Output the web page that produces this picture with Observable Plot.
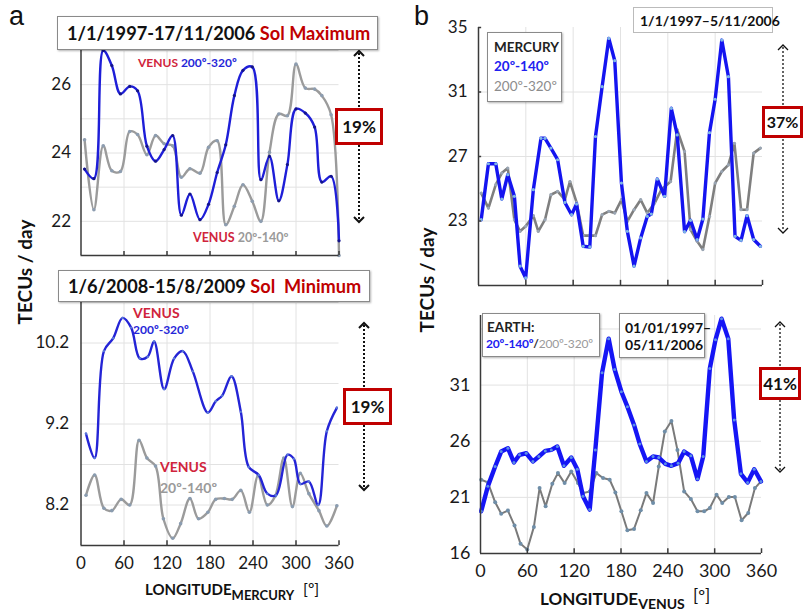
<!DOCTYPE html>
<html><head><meta charset="utf-8">
<script src="https://cdn.jsdelivr.net/npm/d3@7"></script>
<script src="https://cdn.jsdelivr.net/npm/@observablehq/plot@0.6"></script>
<style>
html,body{margin:0;padding:0;background:#fff;}
#fig{position:relative;width:803px;height:611px;overflow:hidden;font-family:Lato,"Open Sans",sans-serif;color:#111;}
#fig svg{position:absolute;}
.t{position:absolute;white-space:nowrap;font-weight:700;line-height:1;}
.box{position:absolute;box-sizing:border-box;background:#fff;border:1px solid #8a8a8a;box-shadow:1px 1px 2px rgba(0,0,0,0.3);}
.pct{position:absolute;box-sizing:border-box;background:#fff;border:3px solid #c00000;display:flex;align-items:center;justify-content:center;font-weight:700;font-size:17px;line-height:1;}
</style></head>
<body><div id="fig"></div>
<script>
// ---------- DATA ----------
const xTickLabels = [0, 60, 120, 180, 240, 300, 360];

// Panel a (top): Sol Maximum, Mercury longitude
const aMaxX = [5, 18, 31, 43, 55, 68, 79, 92, 104, 116, 128, 140, 152, 166, 178, 190, 202, 214, 226, 239, 251, 263, 276, 288, 300, 313, 326, 336, 349, 360];
const aMaxBlue = [23.53, 23.25, 27.0, 26.56, 25.73, 25.95, 25.82, 24.2, 23.76, 24.1, 24.51, 22.18, 22.8, 22.05, 22.5, 23.43, 24.24, 25.68, 26.42, 26.52, 23.22, 23.9, 22.6, 23.66, 25.29, 25.17, 24.76, 23.15, 23.32, 21.43];
const aMaxGray = [24.39, 22.34, 24.21, 23.48, 23.46, 24.63, 24.54, 23.95, 24.51, 24.27, 24.21, 23.29, 23.54, 23.41, 24.17, 24.36, 21.9, 22.44, 23.07, 22.59, 22.0, 24.02, 25.14, 25.09, 26.6, 25.9, 25.87, 25.68, 25.12, 21.0];
const aMaxYTicks = [22, 24, 26];
const aMaxYGrid = [21, 22, 23, 24, 25, 26, 27];

// Panel a (bottom): Sol Minimum
const aMinBlueX = [7, 19, 32, 45, 58, 70, 82, 93, 102, 116, 130, 142, 156, 177, 188, 197, 210, 223, 234, 248, 260, 272, 288, 297, 306, 318, 331, 343, 357];
const aMinBlue = [9.08, 8.78, 10.1, 10.26, 10.51, 10.39, 10.01, 10.03, 10.22, 9.63, 10.01, 10.1, 9.85, 9.34, 9.48, 9.55, 9.79, 9.35, 8.67, 8.57, 8.34, 8.32, 8.82, 8.77, 8.46, 8.49, 8.2, 9.11, 9.4];
const aMinGrayX = [7, 19, 32, 43, 56, 68, 81, 92, 104, 115, 128, 139, 152, 164, 177, 188, 200, 211, 223, 235, 247, 260, 271, 283, 295, 306, 318, 332, 343, 357];
const aMinGray = [8.32, 8.57, 8.16, 8.13, 8.27, 8.2, 9.0, 8.78, 8.68, 8.03, 7.79, 7.97, 8.28, 8.03, 8.11, 8.27, 8.28, 8.27, 8.38, 8.11, 8.56, 8.2, 8.31, 8.78, 8.18, 8.59, 8.34, 8.13, 7.94, 8.19];
const aMinYTicks = [8.2, 9.2, 10.2];
const aMinYGrid = [8.2, 8.7, 9.2, 9.7, 10.2, 10.7];

// Panel b (top): Mercury, Venus longitude
const bMerBlueX = [3.4, 12.6, 21.9, 29.5, 37.1, 45.5, 52.7, 59.8, 69.5, 79.2, 84.3, 91.8, 100.3, 109.5, 118, 124.3, 132.7, 141.1, 148.3, 156.7, 165.2, 172.7, 181.2, 188.7, 197.2, 205.6, 214, 219.1, 226.7, 235.9, 244.4, 251.9, 261.2, 268.8, 277.2, 284.4, 292.8, 300, 308.4, 316.8, 325.2, 332.8, 340.4, 348.8, 357.3];
const bMerBlue = [23.08, 26.55, 26.55, 24.36, 25.87, 24.53, 20.2, 19.47, 24.94, 28.13, 28.13, 27.52, 26.8, 24.15, 23.39, 24.05, 21.43, 21.39, 28.24, 31.33, 34.32, 32.94, 25.35, 22.36, 20.2, 21.95, 23.29, 23.43, 25.6, 24.53, 29.99, 28.34, 22.34, 23.04, 21.85, 23.12, 28.48, 30.55, 34.22, 31.95, 22.05, 21.8, 23.33, 21.85, 21.43];
const bMerGrayX = [3.4, 12.6, 21.9, 29.5, 37.1, 45.5, 52.7, 59.8, 69.5, 75.8, 84.3, 91.8, 100.3, 109.5, 115.9, 124.3, 132.7, 141.1, 148.3, 156.7, 165.2, 172.7, 181.2, 188.7, 197.2, 205.6, 214, 223.3, 231.7, 243.5, 251.9, 261.2, 268.8, 277.2, 284.4, 292.8, 300, 308.4, 316.8, 324.4, 332.8, 340.4, 348.8, 357.3];
const bMerGray = [24.73, 23.8, 25.25, 25.97, 26.28, 23.08, 22.36, 22.67, 23.33, 22.36, 23.08, 24.63, 24.84, 24.32, 25.45, 24.15, 22.09, 22.09, 22.09, 23.39, 23.6, 23.49, 24.32, 22.98, 23.7, 24.32, 23.49, 24.11, 24.94, 25.45, 28.65, 27.31, 22.46, 21.74, 21.23, 23.29, 25.35, 26.07, 26.48, 27.82, 23.7, 23.7, 27.21, 27.52];
const bMerYTicks = [23, 27, 31, 35];
const bMerYGrid = [23, 27, 31];

// Panel b (bottom): Earth, Venus longitude
const bEarBlueX = [0.9, 9.4, 18.8, 26.5, 35.1, 42.8, 50, 58.6, 67.1, 74.8, 83, 90.7, 98.4, 106.9, 116.3, 124, 131.3, 139.9, 147.1, 155.7, 164.2, 171.9, 180.5, 188.2, 196.7, 204, 212.6, 221.1, 228.4, 236.9, 244.6, 253.2, 260.9, 269.5, 278, 285.3, 293.8, 301.1, 308.8, 317.4, 325, 333.6, 342.2, 350.7, 359.3];
const bEarBlue = [19.76, 21.98, 23.75, 25.08, 25.38, 24.11, 24.79, 24.93, 24.2, 24.64, 25.14, 25.23, 25.53, 23.81, 24.55, 23.51, 21.09, 19.91, 25.23, 32.09, 35.14, 32.39, 30.41, 29.08, 27.45, 25.76, 24.2, 24.64, 24.55, 23.99, 23.81, 24.05, 25.08, 24.7, 22.63, 24.64, 32.48, 35.05, 36.92, 35.14, 27.89, 23.1, 22.33, 23.51, 22.42];
const bEarGrayX = [0.9, 9.4, 18.8, 26.5, 35.1, 43.6, 51.3, 59.9, 68.4, 75.7, 83.4, 92, 99.2, 107.8, 116.3, 124.9, 131.3, 139.9, 148.4, 157, 165.5, 172.8, 180.5, 188.2, 196.7, 205.3, 212.6, 221.1, 228.4, 236.1, 244.6, 252.3, 260.9, 269.5, 278, 286.6, 293.8, 302.4, 309.7, 318.2, 325.9, 334.5, 343, 351.6, 359.3];
const bEarGray = [22.57, 22.33, 20.56, 19.55, 19.82, 18.49, 16.86, 16.36, 18.37, 21.83, 20.2, 22.21, 23.16, 22.27, 23.31, 22.27, 21.38, 21.53, 23.16, 22.72, 22.57, 21.44, 19.76, 18.07, 18.19, 19.85, 21.38, 20.5, 23.75, 26.86, 27.8, 25.23, 21.53, 20.85, 19.76, 19.76, 20.05, 21.24, 20.5, 21.03, 21.03, 18.96, 19.61, 21.83, 22.42];
const bEarYTicks = [16, 21, 26, 31];
const bEarYGrid = [21, 26, 31, 36];

// ---------- DRAWING ----------
const fig = document.getElementById("fig");
const gridX = [60, 120, 180, 240, 300];

function pts(xs, ys) { return xs.map((x, i) => ({x, y: ys[i]})); }

function panel(cfg) {
  const marks = [
    Plot.ruleY(cfg.gridY, {stroke: "#e2e2e2", strokeWidth: 1}),
    Plot.ruleX(gridX, {stroke: "#e2e2e2", strokeWidth: 1})
  ];
  for (const s of cfg.series) {
    const d = pts(s.x, s.y);
    marks.push(Plot.line(d, {x: "x", y: "y", stroke: s.color, strokeWidth: s.width, curve: cfg.curve}));
    marks.push(Plot.dot(d, {x: "x", y: "y", r: s.r, fill: s.dot, stroke: "none"}));
  }
  const y0 = cfg.yDomain[0], yr = cfg.yDomain[1] - cfg.yDomain[0];
  marks.push(Plot.ruleY([y0], {stroke: "#3a3a3a", strokeWidth: 1.5}));
  marks.push(Plot.ruleX([0], {stroke: "#3a3a3a", strokeWidth: 1.5}));
  marks.push(Plot.ruleX(gridX.concat([360]), {y1: y0, y2: y0 + yr * 0.02, stroke: "#3a3a3a", strokeWidth: 1.5}));
  if (cfg.leftTicks) marks.push(Plot.ruleY(cfg.leftTicks, {x1: 0, x2: 4, stroke: "#3a3a3a", strokeWidth: 1.5}));
  const L = cfg.left, T = cfg.top, W = cfg.width, H = cfg.height;
  const svg = Plot.plot({
    width: W, height: H,
    marginLeft: cfg.fx0 - L, marginRight: L + W - cfg.fx1,
    marginTop: cfg.fy0 - T, marginBottom: T + H - cfg.fy1,
    x: cfg.xLabels
      ? {domain: [0, 360], ticks: xTickLabels, tickSize: 0, tickPadding: 11, label: null, tickFormat: d3.format("d")}
      : {domain: [0, 360], axis: null},
    y: {domain: cfg.yDomain, ticks: cfg.yTicks, tickSize: 0, tickPadding: cfg.yPad, label: null, tickFormat: cfg.fmt},
    style: {background: "transparent", fontFamily: "Lato, sans-serif", fontSize: cfg.fontSize || "17px", color: "#1a1a1a", overflow: "visible"},
    marks
  });
  svg.style.left = L + "px";
  svg.style.top = T + "px";
  fig.appendChild(svg);
}

panel({left: 0, top: 40, width: 345, height: 225, fx0: 80.5, fx1: 338.5, fy0: 50, fy1: 255,
  yDomain: [21, 27], yTicks: aMaxYTicks, gridY: aMaxYGrid, yPad: 10, xLabels: false, curve: "catmull-rom",
  fmt: d3.format("d"),
  series: [
    {x: aMaxX, y: aMaxGray, color: "#9b9b9b", width: 2.4, dot: "#8d9db0", r: 1.8},
    {x: aMaxX, y: aMaxBlue, color: "#1e1ed8", width: 2.4, dot: "#14148a", r: 1.6}
  ]});

panel({left: 0, top: 290, width: 345, height: 290, fx0: 80.5, fx1: 338.5, fy0: 302, fy1: 545,
  yDomain: [7.7, 10.7], yTicks: aMinYTicks, gridY: aMinYGrid, yPad: 12, xLabels: true, curve: "catmull-rom",
  fmt: d3.format(".1f"),
  series: [
    {x: aMinGrayX, y: aMinGray, color: "#9b9b9b", width: 2.4, dot: "#8a9cb0", r: 1.8},
    {x: aMinBlueX, y: aMinBlue, color: "#2424d6", width: 2.4, dot: "#5a7ad8", r: 1.2}
  ]});

panel({left: 420, top: 15, width: 375, height: 280, fx0: 478, fx1: 762, fy0: 27, fy1: 285,
  yDomain: [19, 35], yTicks: bMerYTicks, gridY: bMerYGrid, yPad: 11, xLabels: false, curve: "linear",
  fmt: d3.format("d"), leftTicks: [23, 27, 31, 35],
  series: [
    {x: bMerGrayX, y: bMerGray, color: "#7f7f7f", width: 2.6, dot: "#9aa6b4", r: 1.6},
    {x: bMerBlueX, y: bMerBlue, color: "#1414f0", width: 3.4, dot: "#7fb6e6", r: 1.6}
  ]});

panel({left: 420, top: 305, width: 375, height: 280, fx0: 480, fx1: 761, fy0: 315, fy1: 553,
  yDomain: [16, 37.2], yTicks: bEarYTicks, gridY: bEarYGrid, yPad: 10, xLabels: true, curve: "linear",
  fmt: d3.format("d"), fontSize: "18px",
  series: [
    {x: bEarGrayX, y: bEarGray, color: "#7a7a7a", width: 2, dot: "#6f8ea8", r: 2},
    {x: bEarBlueX, y: bEarBlue, color: "#1515f5", width: 4.4, dot: "#5b8fe6", r: 1.5}
  ]});

// ---------- DECORATION: dotted double arrows ----------
const deco = d3.select(fig).append("svg").attr("width", 803).attr("height", 611).style("left", "0px").style("top", "0px");
function dArrow(x, y1, y2, w) {
  deco.append("line").attr("x1", x).attr("x2", x).attr("y1", y1 + 2).attr("y2", y2 - 2)
    .attr("stroke", "#111").attr("stroke-width", w).attr("stroke-dasharray", "2,2");
  const h = 5;
  deco.append("path").attr("d", `M${x - h},${y1 + h} L${x},${y1} L${x + h},${y1 + h}`).attr("fill", "none").attr("stroke", "#111").attr("stroke-width", w);
  deco.append("path").attr("d", `M${x - h},${y2 - h} L${x},${y2} L${x + h},${y2 - h}`).attr("fill", "none").attr("stroke", "#111").attr("stroke-width", w);
}
dArrow(359, 51, 222, 2);
dArrow(364, 323, 490, 2);
dArrow(783, 45, 233, 1.3);
dArrow(780, 322, 472, 1.3);

// ---------- TEXT ----------
function el(cls, html, css) {
  const d = document.createElement("div");
  d.className = cls;
  d.innerHTML = html;
  Object.assign(d.style, css);
  fig.appendChild(d);
  return d;
}
const RED = "#c00000", VRED = "#d0243c", BLUE = "#2626d8", GRAY = "#9a9a9a";

el("t", "a", {left: "9px", top: "3px", fontSize: "27px", fontWeight: "400", fontFamily: "'Liberation Sans',sans-serif"});
el("t", "b", {left: "414px", top: "3px", fontSize: "27px", fontWeight: "400", fontFamily: "'Liberation Sans',sans-serif"});

// title boxes
el("box", `<div class="t" style="left:9px;top:7px;font-size:18.2px">1/1/1997-17/11/2006 <span style="color:${RED}">Sol Maximum</span></div>`,
  {left: "57px", top: "16px", width: "321px", height: "34px"});
el("box", `<div class="t" style="left:9px;top:6px;font-size:18.2px">1/6/2008-15/8/2009 <span style="color:${RED}">Sol&nbsp; Minimum</span></div>`,
  {left: "58px", top: "270px", width: "312px", height: "32px"});

// percentage boxes
el("pct", "19%", {left: "335px", top: "108px", width: "48px", height: "37px"});
el("pct", "19%", {left: "343px", top: "388px", width: "49px", height: "37px"});
el("pct", "37%", {left: "762px", top: "106px", width: "41px", height: "32px", fontSize: "16px"});
el("pct", "41%", {left: "759px", top: "367px", width: "42px", height: "33px"});

// series labels panel a
el("t", `<span style="color:${VRED}">VENUS</span> <span style="color:${BLUE}">200º-320º</span>`, {left: "138px", top: "57px", fontSize: "12px"});
el("t", `<span style="color:${VRED}">VENUS</span> <span style="color:${GRAY}">20º-140º</span>`, {left: "193px", top: "232px", fontSize: "12.5px"});
el("t", `<span style="color:${VRED}">VENUS</span>`, {left: "133px", top: "306px", fontSize: "14px"});
el("t", `<span style="color:${BLUE}">200º-320º</span>`, {left: "133px", top: "324px", fontSize: "12px"});
el("t", `<span style="color:${VRED}">VENUS</span>`, {left: "160px", top: "460px", fontSize: "14px"});
el("t", `<span style="color:${GRAY}">20º-140º</span>`, {left: "160px", top: "481px", fontSize: "14px"});

// legend boxes panel b
el("box", `<div class="t" style="left:6px;top:8px;font-size:13.5px;color:#222">MERCURY</div>
  <div class="t" style="left:6px;top:27px;font-size:13.5px;color:#2020f0">20º-140º</div>
  <div class="t" style="left:6px;top:47px;font-size:13.5px;color:#8c8c8c;font-weight:400">200º-320º</div>`,
  {left: "487px", top: "32px", width: "75px", height: "70px"});
el("box", `<div class="t" style="left:6px;top:6px;font-size:14px">1/1/1997–5/11/2006</div>`,
  {left: "633px", top: "7px", width: "140px", height: "26px", boxShadow: "none", borderColor: "#bbb"});
el("box", `<div class="t" style="left:4px;top:7px;font-size:13.5px;color:#222">EARTH:</div>
  <div class="t" style="left:3px;top:24px;font-size:12px;letter-spacing:-0.2px"><span style="color:#2020f0">20º-140º</span><span style="color:#333">/</span><span style="color:#9a9a9a;font-weight:400">200º-320º</span></div>`,
  {left: "482px", top: "313px", width: "118px", height: "44px"});
el("box", `<div class="t" style="left:5px;top:7px;font-size:14px">01/01/1997–</div>
  <div class="t" style="left:5px;top:24px;font-size:14px">05/11/2006</div>`,
  {left: "619px", top: "313px", width: "86px", height: "45px"});

// axis titles
el("t", "TECUs / day", {left: "24px", top: "272px", fontSize: "19px", transform: "translate(-50%,-50%) rotate(-90deg)"});
el("t", "TECUs / day", {left: "426px", top: "280px", fontSize: "19px", transform: "translate(-50%,-50%) rotate(-90deg)"});
el("t", `LONGITUDE<span style="font-size:13px;position:relative;top:5px">MERCURY</span>`, {left: "145px", top: "582px", fontSize: "15px"});
el("t", "[º]", {left: "303px", top: "581px", fontSize: "16px", fontWeight: "400"});
el("t", `LONGITUDE<span style="font-size:14px;position:relative;top:4px">VENUS</span>`, {left: "540px", top: "590px", fontSize: "17px"});
el("t", "[º]", {left: "693px", top: "587px", fontSize: "17px", fontWeight: "400"});
</script></body></html>
